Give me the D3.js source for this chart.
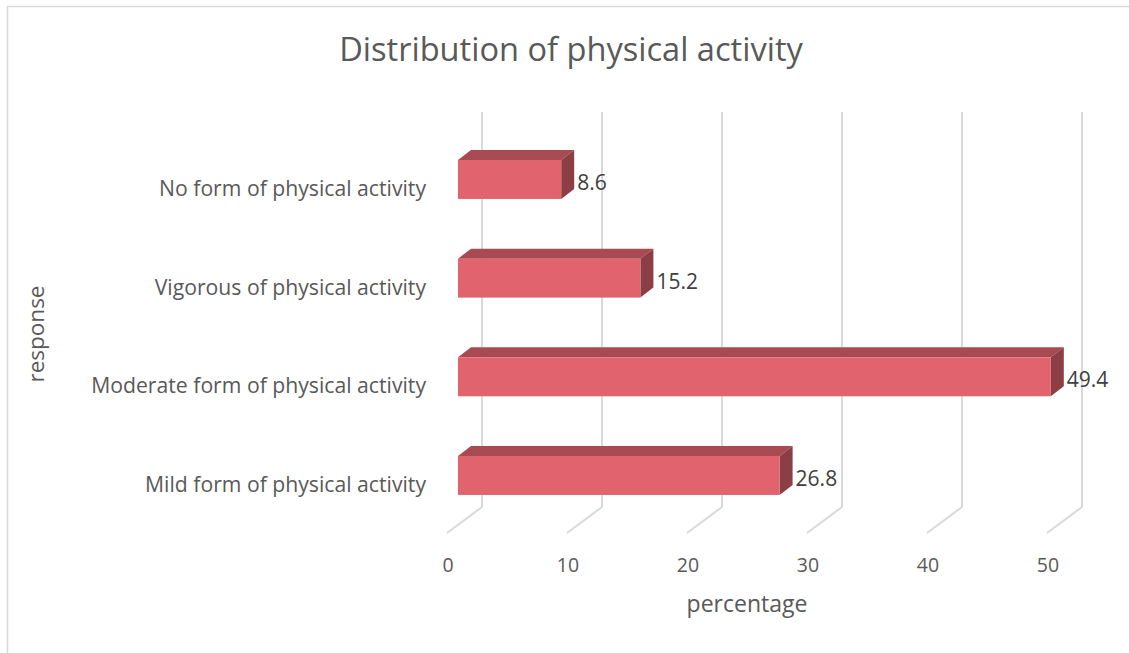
<!DOCTYPE html>
<html>
<head>
<meta charset="utf-8">
<script src="https://cdn.jsdelivr.net/npm/d3@7/dist/d3.min.js"></script>
<style>
  html, body { margin: 0; padding: 0; background: #ffffff; }
  svg { display: block; }
  text { font-family: "Open Sans", "Noto Sans", sans-serif; fill: #595959; }
</style>
</head>
<body>
<svg id="chart" width="1129" height="653"></svg>
<script>
// Responses, top to bottom
const categories = [
  "No form of physical activity",
  "Vigorous of physical activity",
  "Moderate form of physical activity",
  "Mild form of physical activity"
];
// Share of respondents (%)
const percentages = [8.6, 15.2, 49.4, 26.8];
const tickValues = [0, 10, 20, 30, 40, 50];

const chartTitle = "Distribution of physical activity";
const xTitle = "percentage";
const yTitle = "response";

const svg = d3.select("#chart");

// Chart area frame
svg.append("path")
  .attr("d", "M7.5,653 L7.5,6.5 L1129,6.5")
  .attr("fill", "none")
  .attr("stroke", "#d9d9d9")
  .attr("stroke-width", 1.5);

// Front-plane value scale
const x = d3.scaleLinear().domain([0, 50]).range([458, 1058]);
const y = d3.scaleBand()
  .domain(categories)
  .range([120.5, 534.4])
  .paddingInner(0.605)
  .paddingOuter(0.4);

// 3D offsets
const depthX = 13, depthY = -10;          // bar depth
const floorFrontY = 533, floorBackY = 507, wallTopY = 112;
const floorShiftFront = -11, floorShiftBack = 24;

// Back wall gridlines and floor lines
const grid = svg.append("g");
tickValues.forEach(v => {
  const bx = x(v) + floorShiftBack, fx = x(v) + floorShiftFront;
  grid.append("path")
    .attr("d", `M${fx},${floorFrontY} L${bx},${floorBackY} L${bx},${wallTopY}`)
    .attr("fill", "none")
    .attr("stroke", "#d9d9d9")
    .attr("stroke-width", 2);
});

// Tick labels
svg.append("g").selectAll("text")
  .data(tickValues)
  .join("text")
  .attr("x", d => x(d) - 10)
  .attr("y", 567)
  .attr("text-anchor", "middle")
  .attr("dominant-baseline", "middle")
  .attr("font-size", 19.5)
  .text(d => d);

// Bars
const data = categories.map((c, i) => ({ cat: c, value: percentages[i] }));
const bars = svg.append("g").selectAll("g").data(data).join("g");
const bw = y.bandwidth();

bars.append("path") // top face
  .attr("d", d => {
    const x0 = x(0), x1 = x(d.value), t = y(d.cat);
    return `M${x0},${t} L${x0 + depthX},${t + depthY} L${x1 + depthX},${t + depthY} L${x1},${t} Z`;
  })
  .attr("fill", "#a84a52");

bars.append("path") // side face
  .attr("d", d => {
    const x1 = x(d.value), t = y(d.cat);
    return `M${x1},${t} L${x1 + depthX},${t + depthY} L${x1 + depthX},${t + bw + depthY} L${x1},${t + bw} Z`;
  })
  .attr("fill", "#8c3e45");

bars.append("rect") // front face
  .attr("x", x(0))
  .attr("y", d => y(d.cat))
  .attr("width", d => x(d.value) - x(0))
  .attr("height", bw)
  .attr("fill", "#e0636d");

// Value labels
bars.append("text")
  .attr("x", d => x(d.value) + depthX + 3)
  .attr("y", d => y(d.cat) + bw / 2 + 5)
  .attr("dominant-baseline", "middle")
  .attr("font-size", 21)
  .style("fill", "#404040")
  .text(d => d.value);

// Category labels
svg.append("g").selectAll("text")
  .data(categories)
  .join("text")
  .attr("x", 426)
  .attr("y", d => y(d) + bw / 2 + 11)
  .attr("text-anchor", "end")
  .attr("dominant-baseline", "middle")
  .attr("font-size", 21.2)
  .text(d => d);

// Titles
svg.append("text")
  .attr("x", 571)
  .attr("y", 52)
  .attr("text-anchor", "middle")
  .attr("dominant-baseline", "middle")
  .attr("font-size", 32.6)
  .text(chartTitle);

svg.append("text")
  .attr("x", 747)
  .attr("y", 606)
  .attr("text-anchor", "middle")
  .attr("dominant-baseline", "middle")
  .attr("font-size", 23)
  .text(xTitle);

svg.append("text")
  .attr("transform", "translate(38,334) rotate(-90)")
  .attr("text-anchor", "middle")
  .attr("dominant-baseline", "middle")
  .attr("font-size", 22.5)
  .text(yTitle);
</script>
</body>
</html>
